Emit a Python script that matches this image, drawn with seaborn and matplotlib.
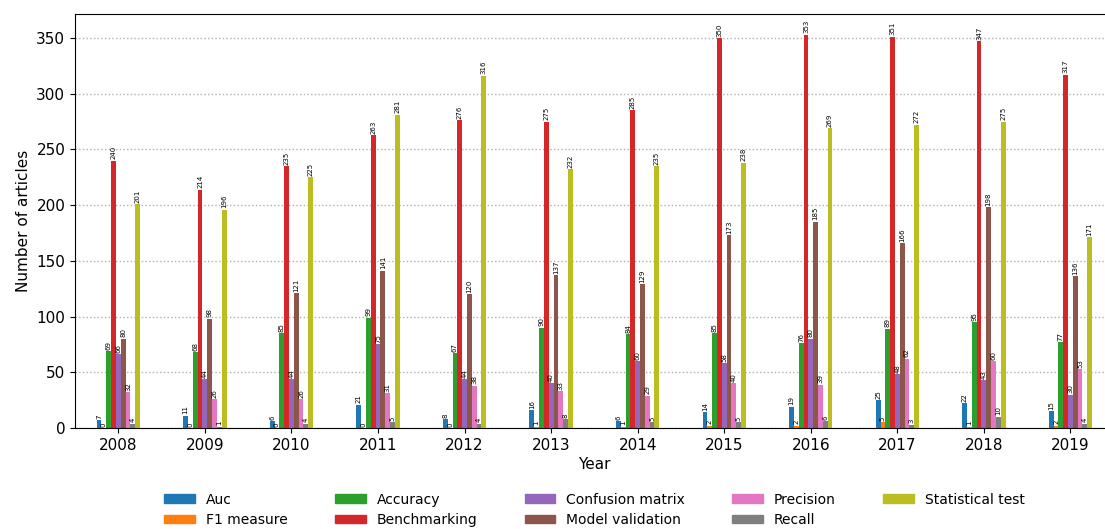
import matplotlib
matplotlib.use("Agg")
import matplotlib.pyplot as plt
import matplotlib.patches as mpatches
import seaborn as sns
import pandas as pd

years = ["2008", "2009", "2010", "2011", "2012", "2013",
         "2014", "2015", "2016", "2017", "2018", "2019"]

auc = [7, 11, 6, 21, 8, 16, 6, 14, 19, 25, 22, 15]
f1_measure = [0, 0, 0, 0, 0, 1, 1, 2, 2, 5, 1, 2]
accuracy = [69, 68, 85, 99, 67, 90, 84, 85, 76, 89, 95, 77]
benchmarking = [240, 214, 235, 263, 276, 275, 285, 350, 353, 351, 347, 317]
confusion_matrix = [66, 44, 44, 75, 44, 40, 60, 58, 80, 48, 43, 30]
model_validation = [80, 98, 121, 141, 120, 137, 129, 173, 185, 166, 198, 136]
precision = [32, 26, 26, 31, 38, 33, 29, 40, 39, 62, 60, 53]
recall = [4, 1, 4, 5, 4, 8, 5, 5, 6, 3, 10, 4]
statistical_test = [201, 196, 225, 281, 316, 232, 235, 238, 269, 272, 275, 171]

series_names = ["Auc", "F1 measure", "Accuracy", "Benchmarking",
                "Confusion matrix", "Model validation", "Precision",
                "Recall", "Statistical test"]
series_values = [auc, f1_measure, accuracy, benchmarking, confusion_matrix,
                 model_validation, precision, recall, statistical_test]

rows = []
for name, vals in zip(series_names, series_values):
    for y, v in zip(years, vals):
        rows.append({"Year": y, "Metric": name, "Count": v})
df = pd.DataFrame(rows)

colors = sns.color_palette("tab10", len(series_names))

fig = plt.figure(figsize=(11.05, 5.29), dpi=100)
ax = fig.add_axes([0.0679, 0.191, 0.9321 + 0.0079, 0.7825])

sns.barplot(data=df, x="Year", y="Count", hue="Metric", order=years,
            hue_order=series_names, palette=colors, width=0.5, gap=0,
            saturation=1, ax=ax, legend=False, errorbar=None)

for cont in ax.containers:
    ax.bar_label(cont, fmt="%d", rotation=90, fontsize=5, padding=1)

ax.set_xlim(-0.5, 11.5)
ax.set_ylim(0, 371.5)
ax.set_yticks(range(0, 351, 50))
ax.yaxis.grid(True, linestyle=":", color="#b0b0b0", linewidth=1.0)
ax.xaxis.grid(False)
ax.set_axisbelow(True)
ax.tick_params(axis="both", labelsize=11, direction="out", length=3.5)
ax.set_xlabel("Year", fontsize=11, labelpad=3)
ax.set_ylabel("Number of articles", fontsize=11)

handles = [mpatches.Patch(color=c, label=n) for c, n in zip(colors, series_names)]
fig.legend(handles=handles, loc="upper center", bbox_to_anchor=(0.538, 0.087),
           ncol=5, frameon=False, fontsize=10, handlelength=2.2,
           handleheight=0.6, handletextpad=0.8, columnspacing=3.4,
           labelspacing=0.45, borderpad=0.2)

fig.savefig("out.png", dpi=100)
